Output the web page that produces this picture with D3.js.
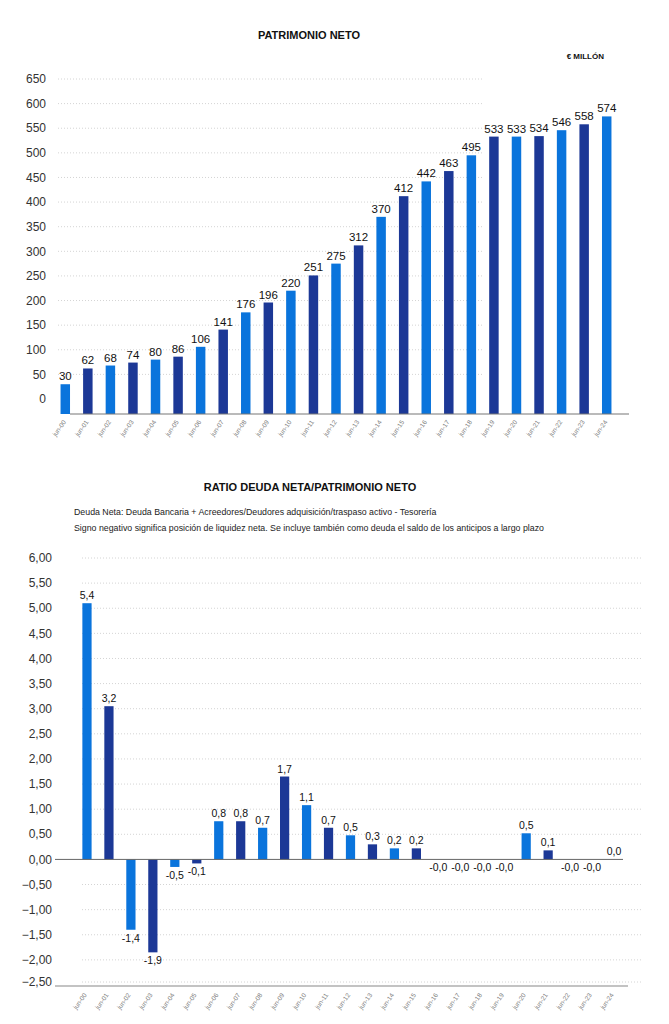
<!DOCTYPE html>
<html>
<head>
<meta charset="utf-8">
<script src="https://cdn.jsdelivr.net/npm/d3@7"></script>
<style>
  body { margin: 0; background: #fff; }
  svg { font-family: "Liberation Sans", Arial, sans-serif; }
  .title { font-weight: bold; font-size: 11px; fill: #111; }
  .tick-label { font-size: 12px; fill: #333; }
  .x-label { font-size: 6.5px; fill: #777; }
  .val { font-size: 11.5px; fill: #111; }
  .val2 { font-size: 10.5px; fill: #111; }
  .note { font-size: 8.8px; fill: #222; }
</style>
</head>
<body>
<svg width="669" height="1024"></svg>
<script>
  const periods = ['jun-00', 'jun-01', 'jun-02', 'jun-03', 'jun-04', 'jun-05', 'jun-06', 'jun-07',
  'jun-08', 'jun-09', 'jun-10', 'jun-11', 'jun-12', 'jun-13', 'jun-14', 'jun-15', 'jun-16',
  'jun-17', 'jun-18', 'jun-19', 'jun-20', 'jun-21', 'jun-22', 'jun-23', 'jun-24'];

  // patrimonio neto, € millón
  const patrimonio = [30, 62, 68, 74, 80, 86, 106, 141, 176, 196, 220, 251, 275, 312, 370,
  412, 442, 463, 495, 533, 533, 534, 546, 558, 574];

  // ratio: bar heights as drawn, and the labels printed over them
  const ratio = [5.1, 3.05, -1.4, -1.85, -0.15, -0.08, 0.76, 0.76, 0.63, 1.65, 1.08, 0.63, 0.48,
  0.3, 0.22, 0.22, 0, 0, 0, 0, 0.52, 0.18, 0, 0, 0];
  const ratioLabels = ['5,4', '3,2', '-1,4', '-1,9', '-0,5', '-0,1', '0,8', '0,8', '0,7', '1,7',
  '1,1', '0,7', '0,5', '0,3', '0,2', '0,2', '-0,0', '-0,0', '-0,0', '-0,0', '0,5', '0,1',
  '-0,0', '-0,0', '0,0'];

  const patrimonioTicks = d3.range(0, 651, 50);
  const ratioTicks = d3.range(-2.5, 6.01, 0.5);

  const colorLight = '#0a74dc';
  const colorDark = '#1c3896';
  const barColor = (d, i) => i % 2 === 0 ? colorLight : colorDark;

  const svg = d3.select('svg');
  const es = d3.formatLocale({ decimal: ',', thousands: '.', grouping: [3], currency: ['', '€'] });
  const fmt2 = es.format('.2f');

  // ---------- PATRIMONIO NETO ----------
  const g1 = svg.append('g');

  g1.append('text').attr('class', 'title')
    .attr('x', 309).attr('y', 39).attr('text-anchor', 'middle')
    .text('PATRIMONIO NETO');
  g1.append('text')
    .attr('x', 604).attr('y', 59).attr('text-anchor', 'end')
    .attr('font-size', 8).attr('font-weight', 'bold').attr('fill', '#111')
    .text('€ MILLÓN');

  const x1 = d3.scaleBand().domain(periods).range([54, 618])
    .paddingInner(0.58).paddingOuter(0.29);
  const y1 = d3.scaleLinear().domain([0, 650]).range([399, 79]);
  const base1 = 414;

  g1.selectAll('.grid').data(patrimonioTicks.filter(d => d > 0))
    .enter().append('line')
      .attr('x1', 58).attr('x2', 484)
      .attr('y1', d => y1(d)).attr('y2', d => y1(d))
      .attr('stroke', '#d4d4d4').attr('stroke-dasharray', '1,2');

  g1.selectAll('.ylab').data(patrimonioTicks)
    .enter().append('text')
      .attr('class', 'tick-label')
      .attr('x', 46).attr('y', d => y1(d)).attr('dy', '0.35em')
      .attr('text-anchor', 'end')
      .text(d => d);

  g1.selectAll('.bar').data(patrimonio)
    .enter().append('rect')
      .attr('x', (d, i) => x1(periods[i]))
      .attr('y', d => y1(d))
      .attr('width', x1.bandwidth())
      .attr('height', d => base1 - y1(d))
      .attr('fill', barColor);

  g1.append('line')
    .attr('x1', 70).attr('x2', 629).attr('y1', base1).attr('y2', base1)
    .attr('stroke', '#777').attr('stroke-width', 1.2);

  g1.selectAll('.val').data(patrimonio)
    .enter().append('text')
      .attr('class', 'val')
      .attr('x', (d, i) => x1(periods[i]) + x1.bandwidth() / 2)
      .attr('y', d => y1(d) - 4)
      .attr('text-anchor', 'middle')
      .text(d => d);

  g1.selectAll('.xlab').data(periods)
    .enter().append('text')
      .attr('class', 'x-label')
      .attr('text-anchor', 'end')
      .attr('transform', d => `translate(${x1(d) + x1.bandwidth() / 2 + 1},${base1 + 8}) rotate(-55)`)
      .text(d => d);

  // ---------- RATIO DEUDA NETA/PATRIMONIO NETO ----------
  const g2 = svg.append('g');

  g2.append('text').attr('class', 'title')
    .attr('x', 310).attr('y', 491).attr('text-anchor', 'middle')
    .text('RATIO DEUDA NETA/PATRIMONIO NETO');
  g2.append('text').attr('class', 'note')
    .attr('x', 74).attr('y', 515)
    .text('Deuda Neta: Deuda Bancaria + Acreedores/Deudores adquisición/traspaso activo - Tesorería');
  g2.append('text').attr('class', 'note')
    .attr('x', 74).attr('y', 531)
    .text('Signo negativo significa posición de liquidez neta. Se incluye también como deuda el saldo de los anticipos a largo plazo');

  const x2 = d3.scaleBand().domain(periods).range([76, 625])
    .paddingInner(0.58).paddingOuter(0.29);
  const y2 = d3.scaleLinear().domain([-2.5, 6]).range([985, 558]);

  g2.selectAll('.grid').data(ratioTicks.filter(d => Math.abs(d) > 1e-9))
    .enter().append('line')
      .attr('x1', 82).attr('x2', 641)
      .attr('y1', d => y2(d) - (d === -2.5 ? 3 : 0)).attr('y2', d => y2(d) - (d === -2.5 ? 3 : 0))
      .attr('stroke', '#d4d4d4').attr('stroke-dasharray', '1,2');

  g2.selectAll('.ylab').data(ratioTicks)
    .enter().append('text')
      .attr('class', 'tick-label')
      .attr('x', 52).attr('y', d => y2(d) - (d === -2.5 ? 3 : 0)).attr('dy', '0.35em')
      .attr('text-anchor', 'end')
      .text(d => fmt2(Math.abs(d) < 1e-9 ? 0 : d));

  g2.selectAll('.bar').data(ratio)
    .enter().append('rect')
      .attr('x', (d, i) => x2(periods[i]))
      .attr('y', d => y2(Math.max(0, d)))
      .attr('width', x2.bandwidth())
      .attr('height', d => Math.abs(y2(d) - y2(0)))
      .attr('fill', barColor);

  g2.append('line')
    .attr('x1', 55).attr('x2', 623).attr('y1', y2(0)).attr('y2', y2(0))
    .attr('stroke', '#666').attr('stroke-width', 1);
  g2.append('line')
    .attr('x1', 55).attr('x2', 628).attr('y1', y2(-2.5) + 1).attr('y2', y2(-2.5) + 1)
    .attr('stroke', '#888').attr('stroke-width', 1.2);

  g2.selectAll('.val').data(ratio)
    .enter().append('text')
      .attr('class', 'val2')
      .attr('x', (d, i) => x2(periods[i]) + x2.bandwidth() / 2)
      .attr('y', (d, i) => ratioLabels[i].startsWith('-') ? y2(Math.min(0, d)) + 12 : y2(Math.max(0, d)) - 4)
      .attr('text-anchor', 'middle')
      .text((d, i) => ratioLabels[i]);

  g2.selectAll('.xlab').data(periods)
    .enter().append('text')
      .attr('class', 'x-label')
      .attr('text-anchor', 'end')
      .attr('transform', d => `translate(${x2(d) + x2.bandwidth() / 2},${y2(-2.5) + 10}) rotate(-55)`)
      .text(d => d);
</script>
</body>
</html>
